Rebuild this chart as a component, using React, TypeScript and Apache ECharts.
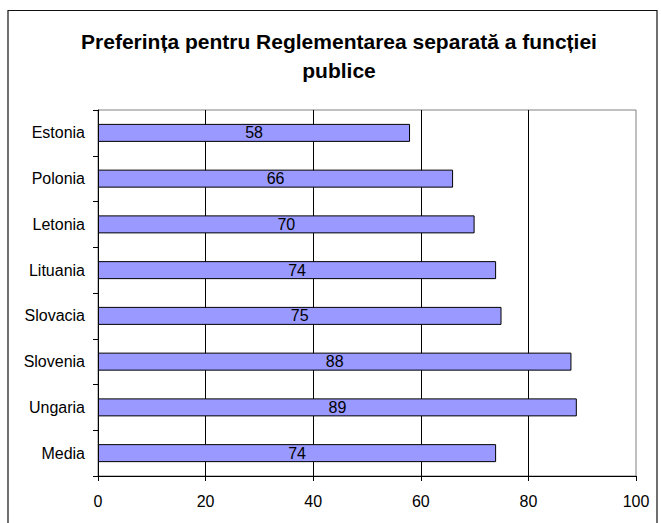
import React, { useEffect, useRef } from "react";
import * as echarts from "echarts";

const titleLines = ["Preferința pentru Reglementarea separată a funcției", "publice"];
const categories = ["Estonia", "Polonia", "Letonia", "Lituania", "Slovacia", "Slovenia", "Ungaria", "Media"];
const values = [58, 66, 70, 74, 75, 88, 89, 74];
const axisMin = 0;
const axisMax = 100;
const axisStep = 20;

const FONT = "'Liberation Sans', Arial, sans-serif";

export default function App() {
  const ref = useRef<HTMLDivElement>(null);

  useEffect(() => {
    if (!ref.current) return;
    const chart = echarts.init(ref.current, null, { renderer: "svg" });
    chart.setOption({
      animation: false,
      backgroundColor: "#ffffff",
      textStyle: { fontFamily: FONT },
      graphic: [
        {
          type: "rect",
          shape: { x: 8, y: 10.5, width: 649, height: 540 },
          style: { fill: "none", stroke: "#111", lineWidth: 1.2 },
          silent: true,
          z: 0,
        },
        {
          type: "text",
          x: 339,
          y: 56,
          style: {
            text: titleLines.join("\n"),
            fill: "#000",
            font: `bold 21px ${FONT}`,
            textAlign: "center",
            textVerticalAlign: "middle",
            lineHeight: 29,
          },
          z: 5,
        },
      ],
      grid: {
        left: 98,
        right: 25,
        top: 110,
        bottom: 47,
        show: true,
        borderColor: "#808080",
        borderWidth: 1,
        backgroundColor: "#ffffff",
      },
      xAxis: {
        type: "value",
        min: axisMin,
        max: axisMax,
        interval: axisStep,
        axisLine: { show: true, lineStyle: { color: "#000", width: 1 } },
        axisTick: { show: true, length: 5, lineStyle: { color: "#000" } },
        axisLabel: { color: "#000", fontSize: 16, fontFamily: FONT, margin: 17 },
        splitLine: {
          show: true,
          showMinLine: false,
          showMaxLine: false,
          lineStyle: { color: "#000", width: 1 },
        },
      },
      yAxis: {
        type: "category",
        data: categories,
        inverse: true,
        axisLine: { show: true, lineStyle: { color: "#000", width: 1 } },
        axisTick: { show: true, length: 5, lineStyle: { color: "#000" } },
        axisLabel: { color: "#000", fontSize: 16, fontFamily: FONT, margin: 13 },
        splitLine: { show: false },
      },
      series: [
        {
          type: "bar",
          data: values,
          barWidth: 18,
          itemStyle: { color: "#9999ff", borderColor: "#000", borderWidth: 1 },
          label: {
            show: true,
            position: "inside",
            color: "#000",
            fontSize: 16,
            fontFamily: FONT,
          },
        },
      ],
    });
    return () => chart.dispose();
  }, []);

  return (
    <div
      ref={ref}
      style={{ position: "fixed", left: 0, top: 0, width: 661, height: 523 }}
    />
  );
}
